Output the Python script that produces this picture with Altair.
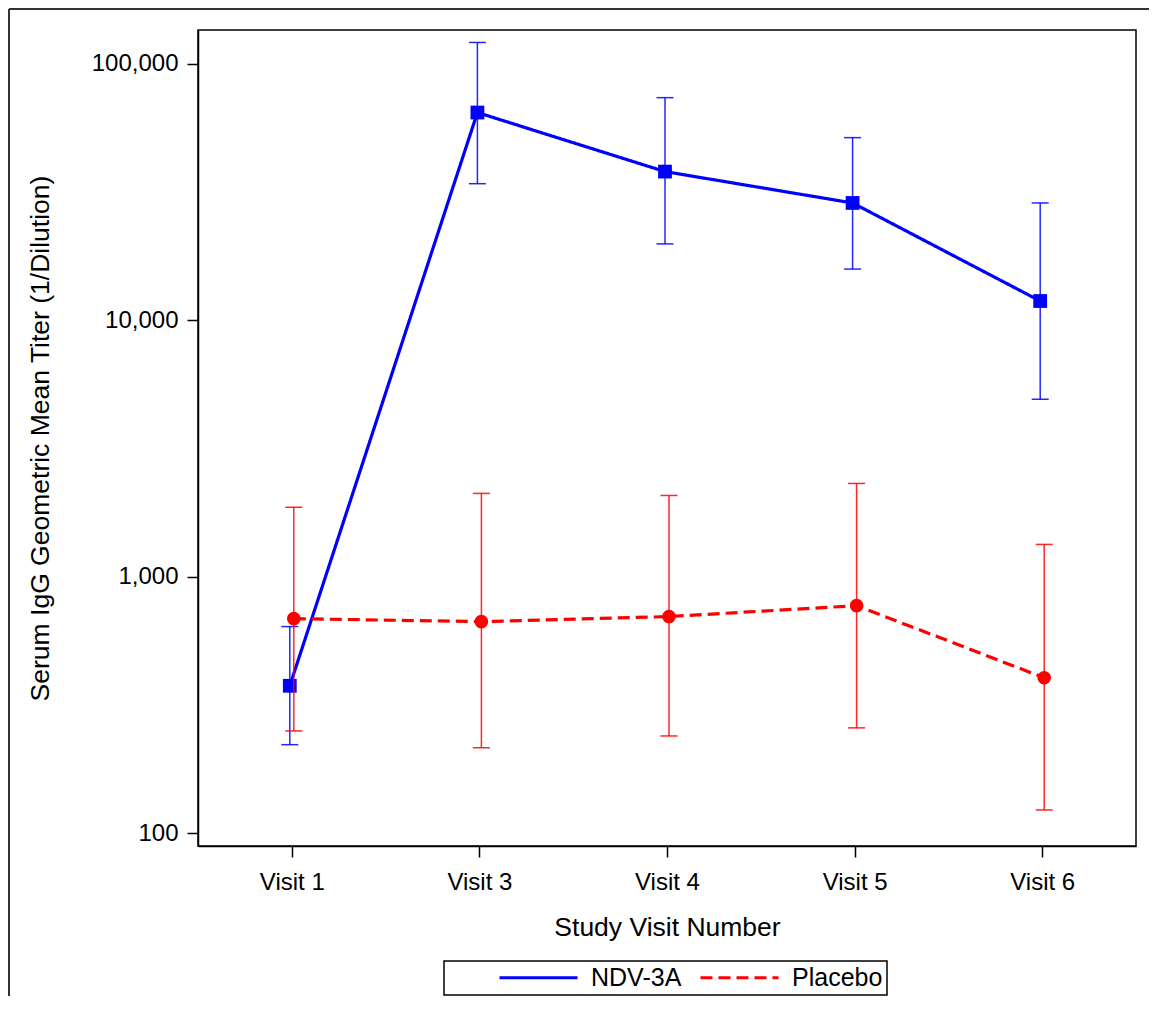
import altair as alt
import pandas as pd

visits = ["Visit 1", "Visit 3", "Visit 4", "Visit 5", "Visit 6"]
series_names = ["NDV-3A", "Placebo"]

ndv_gmt = [375, 64400, 37900, 28600, 11860]
ndv_lo = [221, 34000, 19800, 15800, 4910]
ndv_hi = [638, 120800, 73600, 51400, 28600]

pla_gmt = [685, 667, 698, 770, 403]
pla_lo = [250, 215, 239, 257, 123]
pla_hi = [1862, 2109, 2070, 2306, 1334]

y_ticks = [100, 1000, 10000, 100000]

rows = []
for i, v in enumerate(visits):
    rows.append(dict(visit=v, series="NDV-3A", gmt=ndv_gmt[i], lo=ndv_lo[i], hi=ndv_hi[i]))
for i, v in enumerate(visits):
    rows.append(dict(visit=v, series="Placebo", gmt=pla_gmt[i], lo=pla_lo[i], hi=pla_hi[i]))
df = pd.DataFrame(rows)

FONT = "Liberation Sans, Arial, Helvetica, sans-serif"
BLUE = "#0000FF"
RED = "#FF0000"

x_enc = alt.X(
    "visit:N",
    sort=visits,
    scale=alt.Scale(type="point", padding=0.5),
    axis=alt.Axis(title="Study Visit Number", labelAngle=0, labelPadding=13,
                  titleY=81, titleBaseline="middle"),
)
y_scale = alt.Scale(type="log", domain=[89, 135100], nice=False)
y_axis = alt.Axis(values=y_ticks, format=",", title="Serum IgG Geometric Mean Titer (1/Dilution)",
                  labelPadding=9, titleX=-158, titleY=408, titleAlign="center",
                  titleBaseline="middle")


def yenc(field):
    return alt.Y(field + ":Q", scale=y_scale, axis=y_axis)


legend = alt.Legend(
    title="\u00a0\u00a0\u00a0\u00a0", titleOrient="left", titlePadding=49,
    orient="none", legendX=246, legendY=931, direction="horizontal",
    symbolType="M-3.9,0H3.9", symbolSize=400, symbolStrokeWidth=3,
    symbolOffset=29, labelOffset=40, columnPadding=12,
)
color_enc = alt.Color("series:N", scale=alt.Scale(domain=series_names, range=[BLUE, RED]), legend=legend)
dash_enc = alt.StrokeDash("series:N", scale=alt.Scale(domain=series_names, range=[[1, 0], [12, 6]]), legend=legend)


def series_layers(name, off, col, shape, size):
    d = df[df.series == name]
    base = alt.Chart(d)
    line = base.mark_line(strokeWidth=3.2, xOffset=off).encode(
        x=x_enc, y=yenc("gmt"), color=color_enc, strokeDash=dash_enc)
    rule = base.mark_rule(strokeWidth=1.5, xOffset=off, color=col, opacity=0.85).encode(
        x=x_enc, y=yenc("lo"), y2="hi:Q")
    cap_lo = base.mark_tick(size=17, thickness=1.5, xOffset=off, color=col, opacity=0.85).encode(
        x=x_enc, y=yenc("lo"))
    cap_hi = base.mark_tick(size=17, thickness=1.5, xOffset=off, color=col, opacity=0.85).encode(
        x=x_enc, y=yenc("hi"))
    pts = base.mark_point(shape=shape, filled=True, size=size, opacity=1, xOffset=off, color=col).encode(
        x=x_enc, y=yenc("gmt"))
    return [line, rule, cap_lo, cap_hi, pts]


one = pd.DataFrame({"a": [0]})
frame_left = alt.Chart(one).mark_rule(color="#333333", strokeWidth=2).encode(
    x=alt.value(-189), y=alt.value(-21), y2=alt.value(3000))
frame_top = alt.Chart(one).mark_rule(color="#333333", strokeWidth=2).encode(
    x=alt.value(-189), x2=alt.value(3000), y=alt.value(-21))

layers = series_layers("NDV-3A", -2, BLUE, "square", 190) + \
    series_layers("Placebo", 2, RED, "circle", 185) + [frame_left, frame_top]

chart = alt.layer(*layers).properties(
    width=938, height=816,
    autosize=alt.AutoSizeParams(type="none"),
    padding={"left": 190, "top": 22, "right": 13, "bottom": 150},
    background="white",
).configure_axis(
    labelFont=FONT, titleFont=FONT, labelFontSize=24, titleFontSize=26.5,
    labelColor="black", titleColor="black", titleFontWeight="normal",
    tickColor="black", domainColor="black", tickSize=11, tickWidth=1.5,
    domainWidth=1.5, grid=False,
).configure_legend(
    labelFont=FONT, labelFontSize=25, labelColor="black", titleFont=FONT, titleFontSize=24,
    strokeColor="black", strokeWidth=1.5, fillColor="white", padding=4,
).configure_view(stroke="black", strokeWidth=1.5)

chart.save("out.html", embed_options={"renderer": "svg", "actions": False})
